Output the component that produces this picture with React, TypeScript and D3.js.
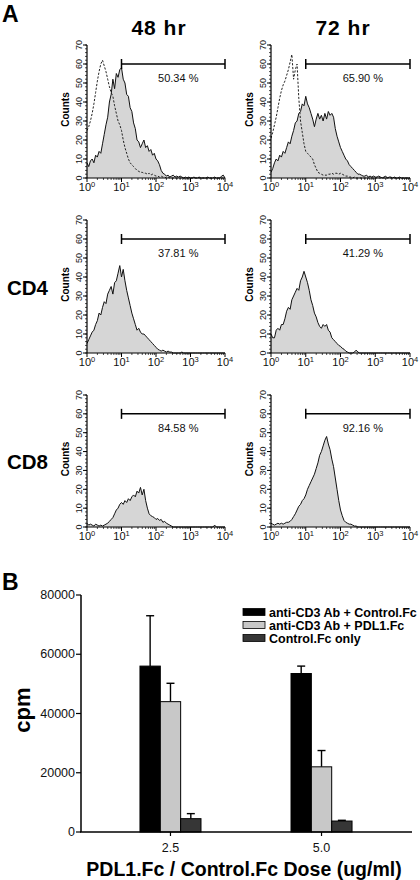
import React from 'react';
import * as d3 from 'd3';

const FONT = "'Liberation Sans', Arial, Helvetica, sans-serif";

// ---------- Panel A data (counts per log10 bin, bin width 0.05, from 10^0 to 10^4) ----------
const BIN_STEP = 0.05;
const N_BINS = 81;

const h48Total = [
  8, 6, 9, 10, 8, 12, 11, 14, 13, 18,
  23, 28, 32, 40, 44, 52, 47, 55, 53, 57,
  58, 52, 50, 44, 43, 37, 35, 29, 26, 20,
  19, 16, 18, 20, 16, 17, 14, 15, 12, 13,
  10, 9, 7, 4, 2.5, 2, 1, 1.5, 0.5, 1,
  1.5, 0.5, 1, 0.5, 1, 0.5, 0, 0.5, 0, 0.5,
  0, 0, 0.5, 0, 0, 0.5, 0, 0, 0, 0,
  0.5, 0, 0, 0, 0.5, 0, 0, 0, 1, 1.5,
  0,
];
const h48Isotype = [
  25, 27, 30, 34, 39, 45, 51, 56, 60, 62,
  59, 56, 52, 48, 45, 43, 38, 34, 30, 28,
  25, 20, 16, 13, 10, 8, 7, 6, 5, 4,
  3.5, 3, 3, 2.5, 2.5, 2, 2.5, 1.5, 2, 1.5,
  1, 1, 0.5, 1, 0.5, 0.5, 0, 0.5, 0, 0,
  0, 0, 0, 0, 0, 0, 0, 0, 0, 0,
  0, 0, 0, 0, 0, 0, 0, 0, 0, 0,
  0, 0, 0, 0, 0, 0, 0, 0, 0, 0,
  0,
];
const h72Total = [
  3, 5, 8, 10, 9, 12, 11, 14, 13, 16,
  19, 18, 22, 25, 29, 30, 34, 35, 39, 38,
  43, 39, 37, 34, 31, 27, 31, 34, 31, 33,
  30, 34, 31, 35, 33, 34, 32, 26, 22, 19,
  16, 14, 12, 10, 9, 7, 6, 5, 4, 3,
  2, 2, 1.5, 1, 1, 1.5, 0.5, 1, 0.5, 1,
  0.5, 0.5, 1, 0.5, 0, 0.5, 1, 0, 0.5, 0.5,
  0, 0.5, 0, 0, 0.5, 0, 0, 0, 0, 0,
  0,
];
const h72Isotype = [
  21, 24, 28, 32, 37, 42, 46, 49, 51, 54,
  57, 61, 65, 52, 57, 60, 42, 30, 24, 18,
  14, 13, 12, 11, 10, 7, 5, 3, 2.5, 2,
  1.5, 1.5, 1.5, 2, 2, 2.5, 2, 2.5, 2.5, 2,
  2.5, 2, 1.5, 1, 1, 0.5, 0.5, 0, 0.5, 0,
  0, 0, 0, 0, 0, 0, 0, 0, 0, 0,
  0, 0, 0, 0, 0, 0, 0, 0, 0, 0,
  0, 0, 0, 0, 0, 0, 0, 0, 0, 0,
  0,
];
const cd4h48 = [
  5, 7, 9, 11, 12, 15, 17, 21, 20, 24,
  27, 26, 31, 33, 35, 31, 37, 38, 42, 46,
  40, 44, 38, 33, 29, 25, 21, 18, 15, 12,
  13, 11, 10, 10, 9, 8, 7, 6, 5, 4,
  3, 2, 1.5, 1, 1.5, 1, 0.5, 1, 0.5, 0.5,
  0, 0, 0, 0, 0, 0.5, 0, 0, 0, 0,
  0, 0, 0, 0, 0, 0, 0, 0, 0, 0,
  0, 0, 0, 0, 0, 0, 0, 0, 0, 0,
  0,
];
const cd4h72 = [
  10, 8, 8, 12, 13, 12, 15, 15, 18, 22,
  24, 23, 28, 30, 32, 34, 33, 38, 40, 43,
  40, 37, 33, 28, 25, 21, 19, 16, 14, 13,
  15, 14, 15, 12, 11, 8, 7, 6, 5, 4,
  3.5, 2.5, 2, 1, 0.5, 0, 0, 0, 0.5, 1.5,
  0.5, 0, 0, 0, 0, 0, 0, 0, 0, 0,
  0, 0, 0, 0, 0, 0, 0, 0, 0, 0,
  0, 0, 0, 0, 0, 0, 0, 0, 0, 0,
  0,
];
const cd8h48 = [
  2, 1, 1.5, 1, 0.5, 1.5, 1, 0.5, 1, 0.5,
  1, 1.5, 2, 3, 4, 5, 7, 9, 10, 12,
  13, 12, 14, 13, 15, 14, 16, 17, 16, 19,
  18, 21, 17, 20, 14, 10, 7, 6, 5.5, 5,
  4, 4.5, 3.5, 4, 2.5, 3, 2, 1.5, 1, 0.5,
  0, 0, 0, 0, 0, 0, 0, 0, 0, 0,
  0, 0, 0, 0, 0, 0, 0, 0, 0, 0,
  0, 0, 0, 0, 1, 0, 0, 0, 0, 0,
  0,
];
const cd8h72 = [
  2, 1.5, 1, 1.5, 2, 1.5, 2, 1.5, 2, 2.5,
  2.5, 3, 4, 5.5, 7, 9, 11, 12, 14, 15,
  17, 20, 22, 24, 26, 28, 31, 34, 38, 40,
  43, 46, 48, 44, 41, 36, 32, 26, 20, 14,
  9, 6, 3.5, 2.5, 2, 1.5, 1.5, 1, 0.5, 0.5,
  0, 0, 0, 0, 0, 0, 0, 0, 0, 0,
  0, 0, 0, 0, 0, 0, 0, 0, 0, 0,
  0, 0, 0, 0, 0, 0, 0, 0, 0, 0,
  0,
];
const gatePercents = ['50.34 %', '65.90 %', '37.81 %', '41.29 %', '84.58 %', '92.16 %'];
const timeLabels = ['48 hr', '72 hr'];
const rowLabels = ['', 'CD4', 'CD8'];
const countTicks = [0, 10, 20, 30, 40, 50, 60, 70];
const decadeExps = [0, 1, 2, 3, 4];

// ---------- Panel B data ----------
const doseLabels = ['2.5', '5.0'];
const seriesNames = ['anti-CD3 Ab + Control.Fc', 'anti-CD3 Ab + PDL1.Fc', 'Control.Fc only'];
const cd3CtrlMean = [56000, 53500];
const cd3CtrlErr = [17000, 2500];
const cd3PdlMean = [44000, 22000];
const cd3PdlErr = [6200, 5500];
const fcOnlyMean = [4500, 3700];
const fcOnlyErr = [1700, 250];
const cpmTicks = [0, 20000, 40000, 60000, 80000];
const seriesColors = ['#000000', '#c8c8c8', '#363636'];

type HistProps = {
  x0: number; x1: number; top: number; zero: number;
  total: number[]; isotype?: number[]; gate: string;
};

function Histogram({ x0, x1, top, zero, total, isotype, gate }: HistProps) {
  const x = d3.scaleLog().domain([1, 1e4]).range([x0, x1]);
  const y = d3.scaleLinear().domain([0, 70]).range([zero, top]);
  const bx = (i: number) => x(Math.pow(10, Math.min(i * BIN_STEP, 4)));
  const area = d3.area<number>().x((_, i) => bx(i)).y0(zero).y1((d) => y(d));
  const line = d3.line<number>().x((_, i) => bx(i)).y((d) => y(d));
  const minorY = d3.range(0, 71, 2);
  const minorX: number[] = [];
  for (let e = 0; e < 4; e++) for (let k = 2; k <= 9; k++) minorX.push(k * Math.pow(10, e));
  const gy = y(60);
  const gx0 = x(10);
  const gx1 = x(1e4);
  const midY = (top + zero) / 2;
  return (
    <g>
      <path d={area(total.slice(0, N_BINS)) || ''} fill="#d6d6d6" stroke="none" />
      <path d={line(total.slice(0, N_BINS)) || ''} fill="none" stroke="#111" strokeWidth={1} />
      {isotype && (
        <path d={line(isotype.slice(0, N_BINS)) || ''} fill="none" stroke="#222" strokeWidth={1} strokeDasharray="2.2,1.6" />
      )}
      {/* y axis */}
      <line x1={x0} x2={x0} y1={top} y2={zero} stroke="#000" strokeWidth={1.2} />
      {minorY.map((v) => (
        <line key={'my' + v} x1={x0 - 2} x2={x0} y1={y(v)} y2={y(v)} stroke="#000" strokeWidth={0.7} />
      ))}
      {countTicks.map((v) => (
        <g key={'ty' + v}>
          <line x1={x0 - 4} x2={x0} y1={y(v)} y2={y(v)} stroke="#000" strokeWidth={1} />
          <text transform={`translate(${x0 - 5},${y(v)}) rotate(-90)`} textAnchor="middle" fontSize={9} fontFamily={FONT} fill="#111">
            {v}
          </text>
        </g>
      ))}
      <text transform={`translate(${x0 - 18.5},${midY - 2}) rotate(-90)`} textAnchor="middle" fontSize={10} fontWeight="bold" fontFamily={FONT}>
        Counts
      </text>
      {/* x axis */}
      <line x1={x0} x2={x1} y1={zero} y2={zero} stroke="#000" strokeWidth={1.2} />
      {minorX.map((v) => (
        <line key={'mx' + v} x1={x(v)} x2={x(v)} y1={zero} y2={zero + 2} stroke="#000" strokeWidth={0.7} />
      ))}
      {decadeExps.map((e) => (
        <g key={'tx' + e}>
          <line x1={x(Math.pow(10, e))} x2={x(Math.pow(10, e))} y1={zero} y2={zero + 4} stroke="#000" strokeWidth={1} />
          <text x={x(Math.pow(10, e))} y={zero + 13} textAnchor="middle" fontSize={11} fontFamily={FONT} fill="#111">
            10<tspan dy={-4.5} fontSize={7.5}>{e}</tspan>
          </text>
        </g>
      ))}
      {/* gate */}
      <line x1={gx0} x2={gx1} y1={gy} y2={gy} stroke="#000" strokeWidth={1.5} />
      <line x1={gx0} x2={gx0} y1={gy - 5} y2={gy + 5} stroke="#000" strokeWidth={1.5} />
      <line x1={gx1} x2={gx1} y1={gy - 5} y2={gy + 5} stroke="#000" strokeWidth={1.5} />
      <text x={(gx0 + gx1) / 2 + 5} y={gy + 18} textAnchor="middle" fontSize={11} fontFamily={FONT} fill="#111">
        {gate}
      </text>
    </g>
  );
}

function BarPanel() {
  const y = d3.scaleLinear().domain([0, 80000]).range([832, 595]);
  const x = d3.scaleBand<string>().domain(doseLabels).range([80, 412]).paddingInner(0.596).paddingOuter(0.397);
  const inner = d3.scaleBand<number>().domain([0, 1, 2]).range([0, x.bandwidth()]).padding(0);
  const means = [cd3CtrlMean, cd3PdlMean, fcOnlyMean];
  const errs = [cd3CtrlErr, cd3PdlErr, fcOnlyErr];
  const legendY = [612, 625, 638];
  return (
    <g>
      {doseLabels.map((dose, gi) => (
        <g key={dose}>
          {means.map((m, si) => {
            const bx = (x(dose) || 0) + (inner(si) || 0);
            const bw = inner.bandwidth();
            const top = y(m[gi]);
            const et = y(m[gi] + errs[si][gi]);
            const cx = bx + bw / 2;
            return (
              <g key={si}>
                <line x1={cx} x2={cx} y1={top} y2={et} stroke="#000" strokeWidth={1.4} />
                <line x1={cx - 4} x2={cx + 4} y1={et} y2={et} stroke="#000" strokeWidth={1.4} />
                <rect x={bx} y={top} width={bw} height={832 - top} fill={seriesColors[si]} stroke="#000" strokeWidth={1} />
              </g>
            );
          })}
        </g>
      ))}
      {/* axes */}
      <line x1={81} x2={81} y1={595} y2={832} stroke="#000" strokeWidth={1.5} />
      <line x1={80} x2={412} y1={832} y2={832} stroke="#000" strokeWidth={1.5} />
      {cpmTicks.map((t) => (
        <g key={t}>
          <line x1={76} x2={81} y1={y(t)} y2={y(t)} stroke="#000" strokeWidth={1.2} />
          <text x={75} y={y(t) + 4} textAnchor="end" fontSize={12.5} fontFamily={FONT} fill="#111">
            {t}
          </text>
        </g>
      ))}
      {doseLabels.map((d) => {
        const cx = (x(d) || 0) + x.bandwidth() / 2;
        return (
          <g key={d}>
            <line x1={cx} x2={cx} y1={832} y2={836} stroke="#000" strokeWidth={1.2} />
            <text x={cx} y={852} textAnchor="middle" fontSize={12.5} fontFamily={FONT} fill="#111">
              {d}
            </text>
          </g>
        );
      })}
      <text transform="translate(30,710) rotate(-90)" textAnchor="middle" fontSize={22} fontWeight="bold" fontFamily={FONT}>
        cpm
      </text>
      <text x={244} y={876} textAnchor="middle" fontSize={19.5} fontWeight="bold" fontFamily={FONT}>
        PDL1.Fc / Control.Fc Dose (ug/ml)
      </text>
      {/* legend */}
      {seriesNames.map((n, i) => (
        <g key={n}>
          <rect x={243} y={legendY[i] - 3.5} width={22} height={7} fill={seriesColors[i]} stroke="#000" strokeWidth={0.8} />
          <text x={269} y={legendY[i] + 4.5} fontSize={12.5} fontWeight="bold" fontFamily={FONT}>
            {n}
          </text>
        </g>
      ))}
    </g>
  );
}

export default function App() {
  const cols = [
    { x0: 87, x1: 225 },
    { x0: 271, x1: 410 },
  ];
  const rows = [
    { top: 45, zero: 178 },
    { top: 220, zero: 353 },
    { top: 395, zero: 527 },
  ];
  const totals = [h48Total, h72Total, cd4h48, cd4h72, cd8h48, cd8h72];
  const isotypes = [h48Isotype, h72Isotype, undefined, undefined, undefined, undefined];
  const titleX = [159, 343];
  return (
    <svg width={420} height={880} style={{ position: 'absolute', left: 0, top: 0, background: '#fff' }}>
      <rect x={0} y={0} width={420} height={880} fill="#fff" />
      <text x={2} y={22} fontSize={23} fontWeight="bold" fontFamily={FONT}>A</text>
      <text x={2} y={590} fontSize={23} fontWeight="bold" fontFamily={FONT}>B</text>
      {timeLabels.map((t, i) => (
        <text key={t} x={titleX[i]} y={35} textAnchor="middle" fontSize={21} letterSpacing={1} fontWeight="bold" fontFamily={FONT}>
          {t}
        </text>
      ))}
      {rowLabels.map((r, i) =>
        r ? (
          <text key={r} x={7} y={rows[i].zero - 58} fontSize={20.5} fontWeight="bold" fontFamily={FONT}>
            {r}
          </text>
        ) : null
      )}
      {rows.map((row, ri) =>
        cols.map((col, ci) => {
          const k = ri * 2 + ci;
          return (
            <Histogram
              key={k}
              x0={col.x0}
              x1={col.x1}
              top={row.top}
              zero={row.zero}
              total={totals[k]}
              isotype={isotypes[k]}
              gate={gatePercents[k]}
            />
          );
        })
      )}
      <BarPanel />
    </svg>
  );
}
